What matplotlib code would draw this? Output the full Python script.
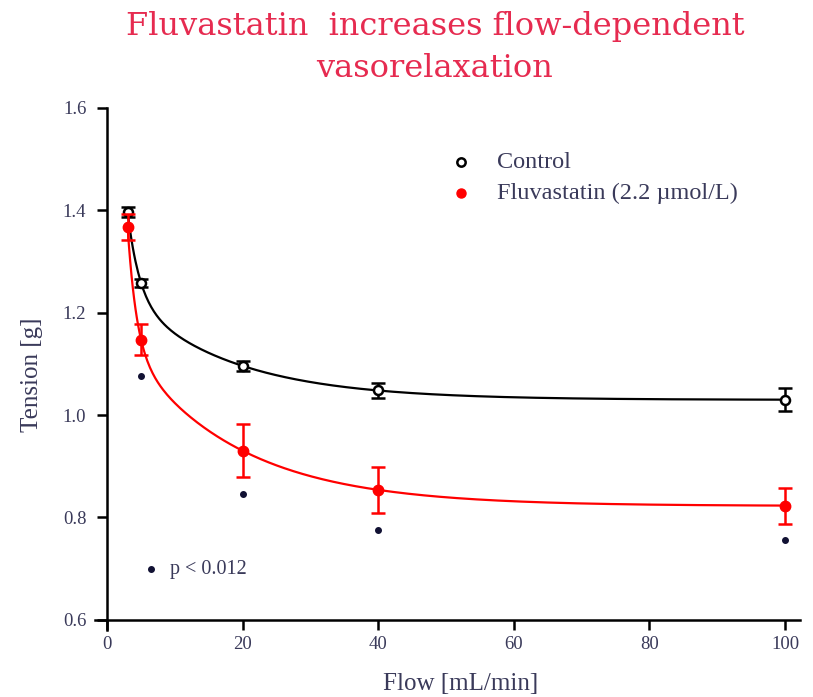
import numpy as np
import matplotlib
matplotlib.use("Agg")
import matplotlib.pyplot as plt

flow = [3, 5, 20, 40, 100]
control = [1.397, 1.258, 1.096, 1.048, 1.030]
control_err = [0.010, 0.008, 0.010, 0.015, 0.022]
fluva = [1.368, 1.147, 0.930, 0.854, 0.823]
fluva_err = [0.025, 0.030, 0.052, 0.045, 0.035]
star_x = [5, 20, 40, 100]
star_y = [1.076, 0.846, 0.776, 0.756]

def fit_two_phase(x, y):
    x = np.asarray(x, float); y = np.asarray(y, float)
    best = None
    for k1 in np.geomspace(0.15, 3.0, 120):
        for k2 in np.geomspace(0.01, 0.14, 120):
            A = np.column_stack([np.ones_like(x), np.exp(-k1 * x), np.exp(-k2 * x)])
            coef, *_ = np.linalg.lstsq(A, y, rcond=None)
            if coef[1] < 0 or coef[2] < 0:
                continue
            r = np.sum((A @ coef - y) ** 2)
            if best is None or r < best[0]:
                best = (r, coef, k1, k2)
    _, (c, a, b), k1, k2 = best
    return lambda t: c + a * np.exp(-k1 * t) + b * np.exp(-k2 * t)

fig = plt.figure(figsize=(8.13, 6.97), dpi=100)
ax = fig.add_axes([0.1169, 0.0961, 0.867, 0.749])

serif = ["Liberation Serif", "DejaVu Serif"]
txt = "#3a3a5a"
xs = np.linspace(3, 100, 500)
fc = fit_two_phase(flow, control)
ff = fit_two_phase(flow, fluva)
ax.plot(xs, fc(xs), color="black", lw=1.6, zorder=2)
ax.plot(xs, ff(xs), color="red", lw=1.6, zorder=2)

ax.errorbar(flow, control, yerr=control_err, fmt="o", mfc="white", mec="black",
            mew=1.8, ms=6.5, ecolor="black", elinewidth=1.8, capsize=5, capthick=1.8, zorder=3)
ax.errorbar(flow, fluva, yerr=fluva_err, fmt="o", color="red", ms=7.5,
            ecolor="red", elinewidth=1.8, capsize=5, capthick=1.8, zorder=4)
ax.plot(star_x, star_y, "o", color="#111133", ms=4, zorder=5)

ax.set_xlim(-1.8, 102.2)
ax.set_ylim(0.58, 1.6)
ax.spines["left"].set_position(("data", 0))
ax.spines["bottom"].set_position(("data", 0.6))
ax.spines["left"].set_bounds(0.58, 1.6)
ax.spines["bottom"].set_bounds(-1.8, 102.2)
ax.set_xticks([0, 20, 40, 60, 80, 100])
ax.set_yticks([0.6, 0.8, 1.0, 1.2, 1.4, 1.6])
ax.set_yticklabels(["0.6", "0.8", "1.0", "1.2", "1.4", "1.6"])
for s in ["top", "right"]:
    ax.spines[s].set_visible(False)
for s in ["left", "bottom"]:
    ax.spines[s].set_linewidth(1.8)
ax.tick_params(direction="out", length=7, width=1.8, labelsize=13.5, colors="black",
               labelcolor=txt, pad=5)
ax.tick_params(axis="y", pad=8)
for lab in ax.get_xticklabels() + ax.get_yticklabels():
    lab.set_family(serif)

ax.set_xlabel("Flow [mL/min]", fontsize=18, family=serif, color=txt)
ax.set_ylabel("Tension [g]", fontsize=18, family=serif, color=txt)
ax.xaxis.set_label_coords(0.519, -0.083)
ax.yaxis.set_label_coords(-0.074, 0.4885)

# legend
ax.plot([52.2], [1.494], "o", mfc="white", mec="black", mew=1.8, ms=6, clip_on=False)
ax.plot([52.2], [1.434], "o", color="red", ms=6.5, clip_on=False)
ax.text(57.5, 1.494, "Control", fontsize=17.5, family=serif, color=txt, va="center")
ax.text(57.5, 1.434, "Fluvastatin (2.2 µmol/L)", fontsize=17.5, family=serif,
        color=txt, va="center")
ax.plot([6.4], [0.699], "o", color="#111133", ms=4)
ax.text(9.2, 0.699, "p < 0.012", fontsize=14.5, family=serif, color=txt, va="center")

fig.text(0.535, 0.962, "Fluvastatin  increases flow-dependent", ha="center", va="center",
         fontsize=23, family=["DejaVu Serif"], color="#e62b50")
fig.text(0.535, 0.902, "vasorelaxation", ha="center", va="center",
         fontsize=23, family=["DejaVu Serif"], color="#e62b50")

fig.savefig("out.png", dpi=100)
